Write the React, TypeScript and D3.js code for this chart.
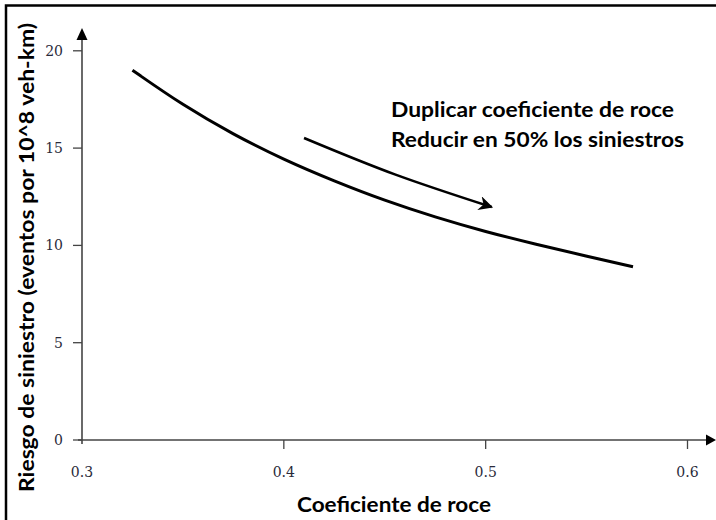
import React from "react";
import * as d3 from "d3";

const friction = [0.325, 0.35, 0.375, 0.4, 0.425, 0.45, 0.475, 0.5, 0.525, 0.55, 0.573];
const risk = [19.0, 17.2, 15.7, 14.4, 13.3, 12.3, 11.45, 10.7, 10.05, 9.45, 8.9];
const xTicks = [0.3, 0.4, 0.5, 0.6];
const yTicks = [0, 5, 10, 15, 20];
const arrowX = [0.41, 0.455, 0.503];
const arrowY = [15.52, 13.65, 11.97];
const noteLines = ["Duplicar coeficiente de roce", "Reducir en 50% los siniestros"];
const xTitle = "Coeficiente de roce";
const yTitle = "Riesgo de siniestro (eventos por 10^8 veh-km)";

export default function App() {
  const W = 716, H = 520;
  const x = d3.scaleLinear().domain([0.3, 0.6]).range([82, 687.5]);
  const y = d3.scaleLinear().domain([0, 20]).range([440, 50.8]);
  const pts = friction.map((f, i) => [f, risk[i]] as [number, number]);
  const line = d3.line<[number, number]>().x(d => x(d[0])).y(d => y(d[1])).curve(d3.curveBasis);
  const apts = arrowX.map((f, i) => [f, arrowY[i]] as [number, number]);
  const aline = d3.line<[number, number]>().x(d => x(d[0])).y(d => y(d[1])).curve(d3.curveNatural);
  const axisColor = "#444";
  const tickFont = "'DejaVu Serif', serif";
  const boldFont = "Lato, 'Open Sans', sans-serif";
  return (
    <svg width={W} height={H} style={{ position: "absolute", left: 0, top: 0, background: "#fff" }}>
      <defs>
        <marker id="ah" viewBox="0 0 10 10" refX="9" refY="5" markerWidth="5.5" markerHeight="5.5" orient="auto" markerUnits="strokeWidth">
          <path d="M0,0 L10,5 L0,10 L3,5 Z" fill="#000" />
        </marker>
      </defs>
      <rect x={0} y={0} width={W} height={H} fill="#fff" />
      <rect x={6} y={5.5} width={W + 20} height={H + 20} fill="none" stroke="#000" strokeWidth={2.5} />
      {/* axes */}
      <line x1={x(0.3) - 4} x2={706} y1={y(0)} y2={y(0)} stroke={axisColor} strokeWidth={1.6} />
      <path d={`M706,${y(0) - 5.5} L716,${y(0)} L706,${y(0) + 5.5} Z`} fill="#000" />
      <line x1={x(0.3)} x2={x(0.3)} y1={y(0) + 4} y2={39} stroke={axisColor} strokeWidth={1.6} />
      <path d={`M${x(0.3) - 5.5},40 L${x(0.3)},28 L${x(0.3) + 5.5},40 Z`} fill="#000" />
      {xTicks.map(t => (
        <g key={"x" + t}>
          {t > 0.3 && <line x1={x(t)} x2={x(t)} y1={y(0)} y2={y(0) + 9} stroke={axisColor} strokeWidth={1.3} />}
          <text x={x(t)} y={477} textAnchor="middle" fontFamily={tickFont} fontSize={14} fill="#2a2a3a">{t.toFixed(1)}</text>
        </g>
      ))}
      {yTicks.map(t => (
        <g key={"y" + t}>
          <line x1={x(0.3) - 9} x2={x(0.3)} y1={y(t)} y2={y(t)} stroke={axisColor} strokeWidth={1.3} />
          <text x={63} y={y(t)} dy="0.36em" textAnchor="end" fontFamily={tickFont} fontSize={14} fill="#2a2a3a">{t}</text>
        </g>
      ))}
      {/* main curve */}
      <path d={line(pts) || ""} fill="none" stroke="#000" strokeWidth={3} strokeLinecap="butt" />
      {/* annotation arrow */}
      <path d={aline(apts) || ""} fill="none" stroke="#000" strokeWidth={2.6} markerEnd="url(#ah)" />
      {noteLines.map((s, i) => (
        <text key={s} x={391} y={117 + i * 30} fontFamily={boldFont} fontWeight="bold" fontSize={21}
          textLength={i === 0 ? 283 : 293} lengthAdjust="spacingAndGlyphs" fill="#000">{s}</text>
      ))}
      <text x={394} y={512} textAnchor="middle" fontFamily={boldFont} fontWeight="bold" fontSize={21}
        textLength={194} lengthAdjust="spacingAndGlyphs" fill="#000">{xTitle}</text>
      <text transform="translate(33.5,257.5) rotate(-90)" textAnchor="middle" fontFamily={boldFont} fontWeight="bold" fontSize={21}
        textLength={469} lengthAdjust="spacingAndGlyphs" fill="#000">{yTitle}</text>
    </svg>
  );
}
